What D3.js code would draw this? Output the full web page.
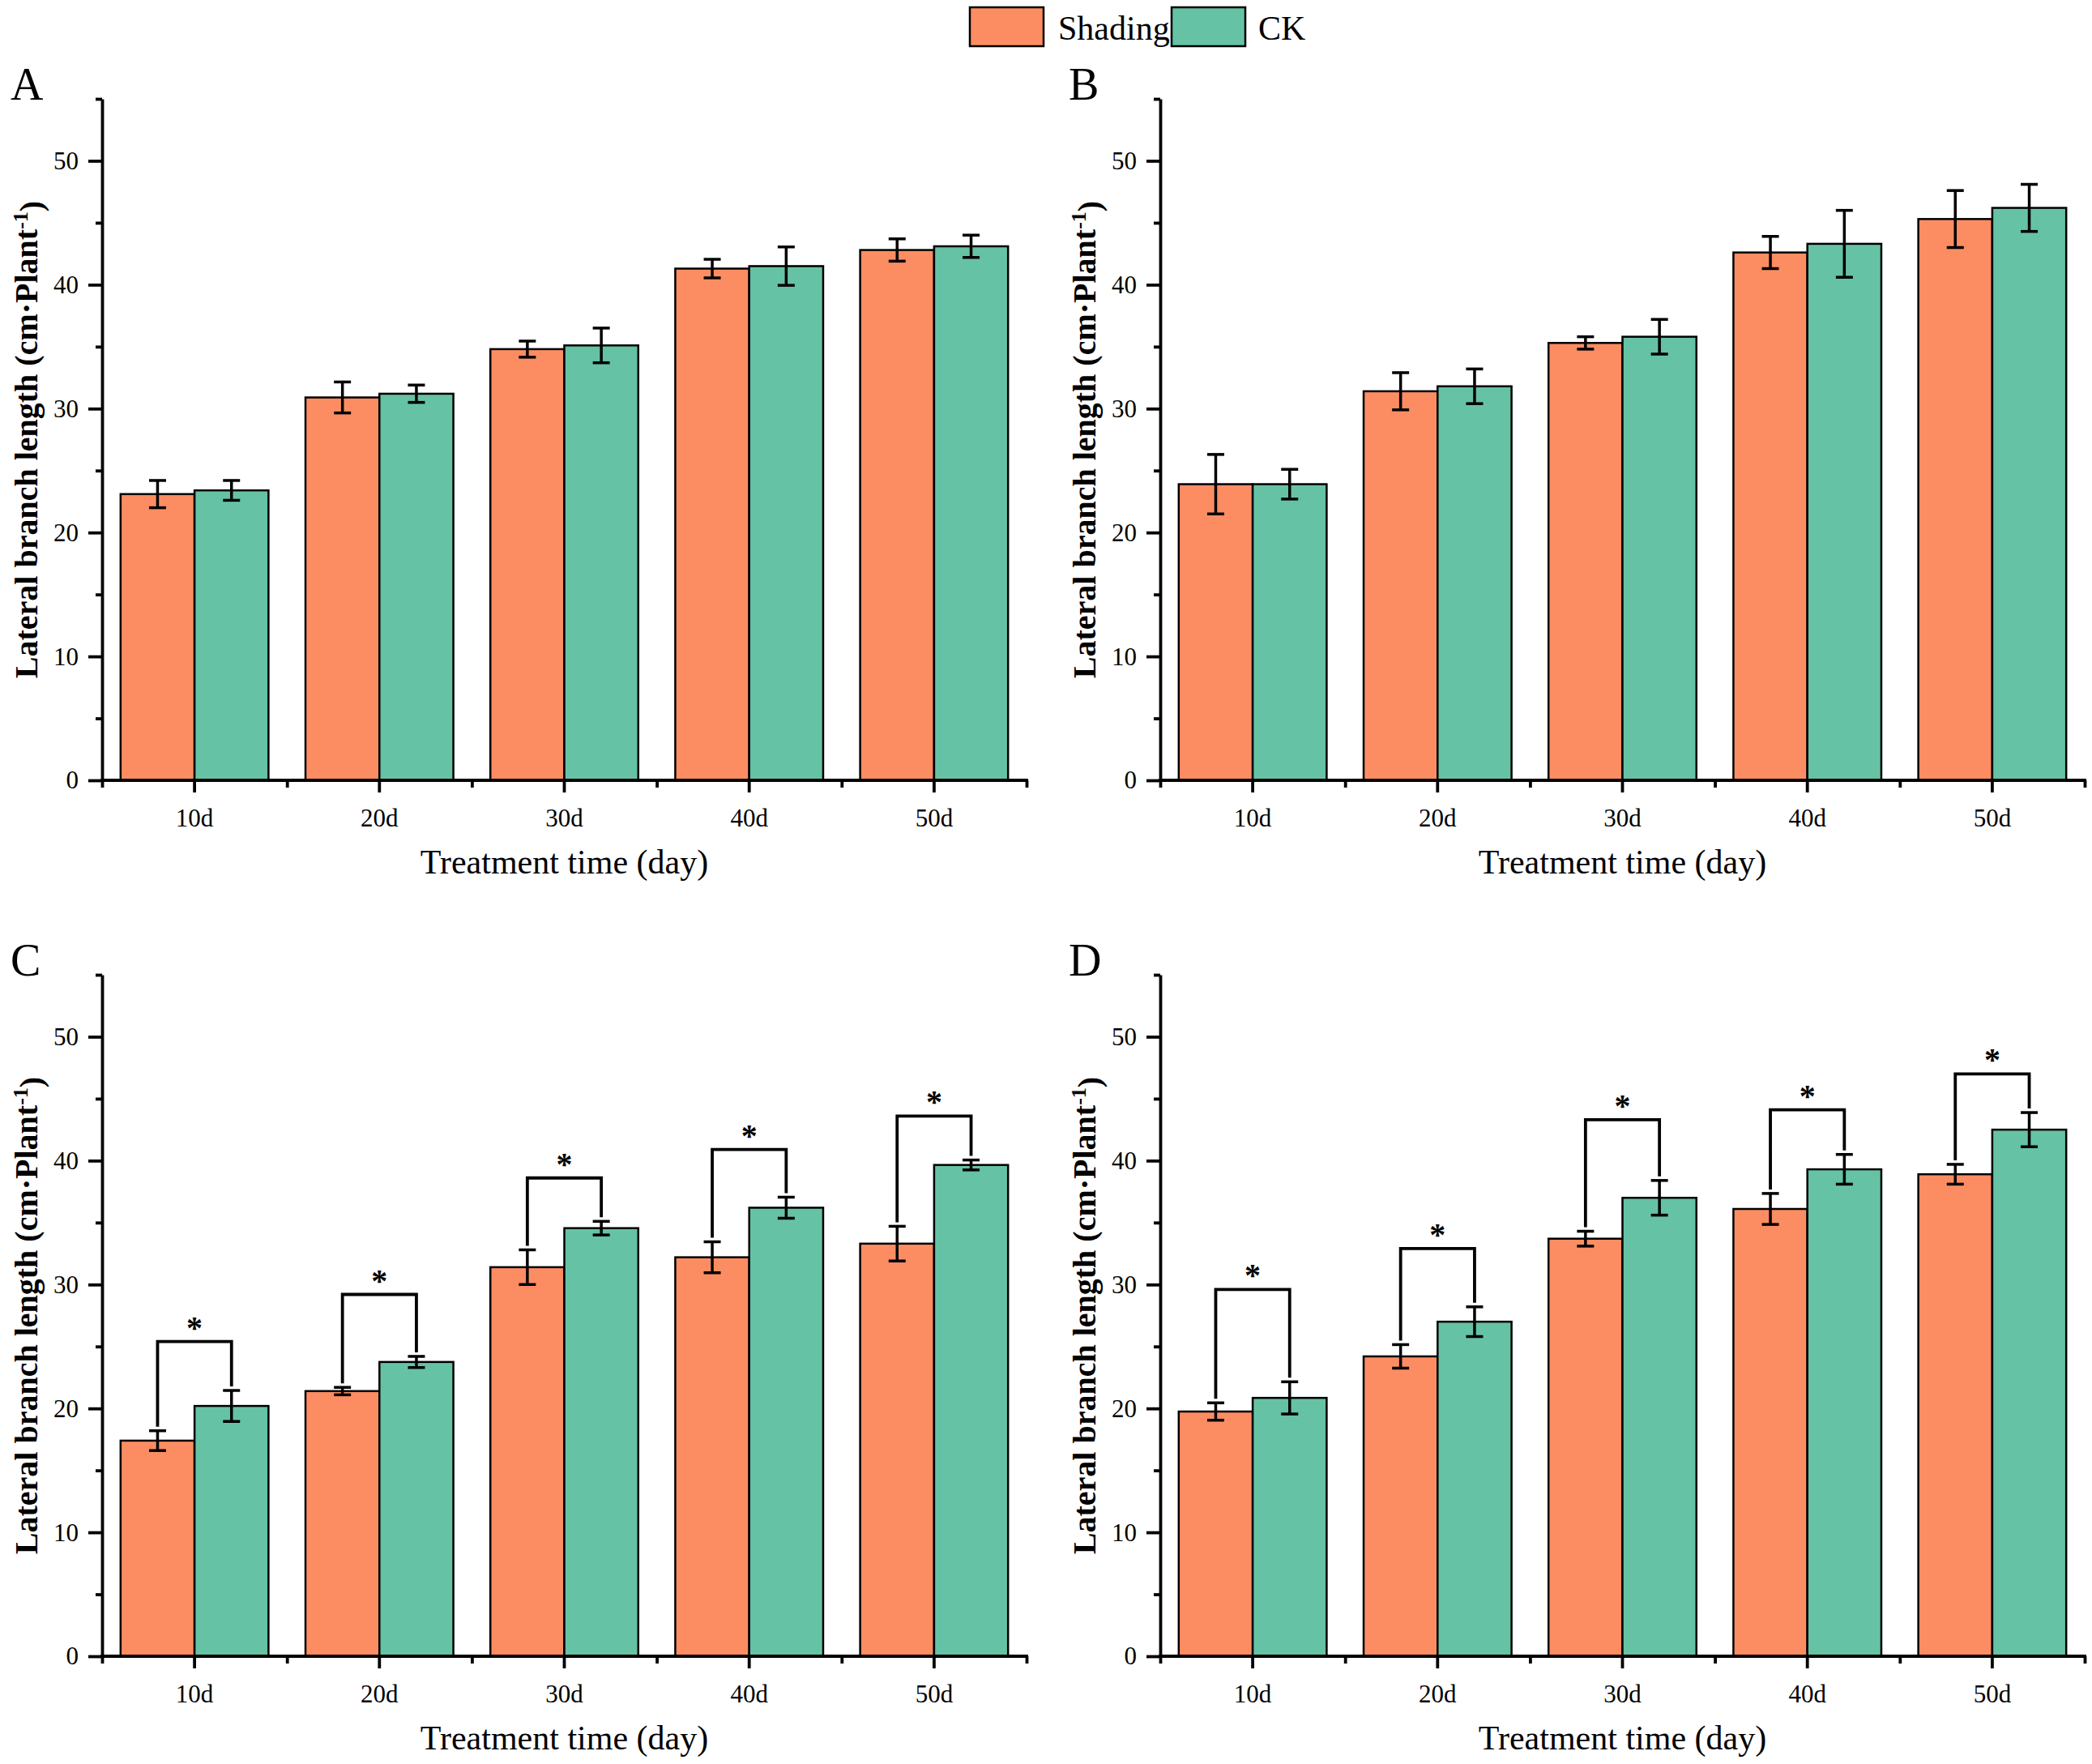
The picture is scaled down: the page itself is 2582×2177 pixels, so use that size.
<!DOCTYPE html>
<html>
<head>
<meta charset="utf-8">
<script src="https://cdn.jsdelivr.net/npm/d3@7/dist/d3.min.js"></script>
<style>
  html, body { margin: 0; padding: 0; background: #fff; }
  svg { display: block; }
  text { font-family: "Liberation Serif", "Times New Roman", serif; fill: #000; }
</style>
</head>
<body>
<svg id="chart" width="2582" height="2177"></svg>
<script>
// ---------- DATA ----------
const categories = ["10d", "20d", "30d", "40d", "50d"];
const seriesNames = ["Shading", "CK"];
const seriesColors = ["#FC8D62", "#66C2A5"];
const yTicks = [0, 10, 20, 30, 40, 50];
const yMinorTicks = [5, 15, 25, 35, 45, 55];
const yMax = 55;

const panelLabels = ["A", "B", "C", "D"];

// Panel A
const shadingA = [23.1, 30.9, 34.8, 41.3, 42.8];
const shadingErrA = [1.1, 1.25, 0.65, 0.75, 0.9];
const ckA = [23.4, 31.2, 35.1, 41.5, 43.1];
const ckErrA = [0.8, 0.7, 1.4, 1.55, 0.9];

// Panel B
const shadingB = [23.9, 31.4, 35.3, 42.6, 45.3];
const shadingErrB = [2.4, 1.5, 0.5, 1.3, 2.3];
const ckB = [23.9, 31.8, 35.8, 43.3, 46.2];
const ckErrB = [1.2, 1.4, 1.4, 2.7, 1.9];

// Panel C
const shadingC = [17.4, 21.4, 31.4, 32.2, 33.3];
const shadingErrC = [0.8, 0.3, 1.4, 1.25, 1.4];
const ckC = [20.2, 23.75, 34.55, 36.2, 39.65];
const ckErrC = [1.25, 0.45, 0.55, 0.85, 0.4];
const bracketC = [25.4, 29.2, 38.6, 40.9, 43.6];

// Panel D
const shadingD = [19.75, 24.2, 33.7, 36.1, 38.9];
const shadingErrD = [0.7, 0.95, 0.6, 1.25, 0.8];
const ckD = [20.85, 27.0, 37.0, 39.3, 42.5];
const ckErrD = [1.3, 1.2, 1.4, 1.2, 1.38];
const bracketD = [29.6, 32.9, 43.3, 44.1, 47.0];

const xTitle = "Treatment time (day)";
const sigMark = "*";

// ---------- LAYOUT ----------
const svg = d3.select("#chart");
const FONT = '"Liberation Serif", "Times New Roman", serif';
const plotW = 1141, plotH = 841;
const panels = [
  { label: panelLabels[0], ox: 126, oy: 122, s: shadingA, se: shadingErrA, c: ckA, ce: ckErrA, br: null },
  { label: panelLabels[1], ox: 1432, oy: 122, s: shadingB, se: shadingErrB, c: ckB, ce: ckErrB, br: null },
  { label: panelLabels[2], ox: 126, oy: 1203, s: shadingC, se: shadingErrC, c: ckC, ce: ckErrC, br: bracketC },
  { label: panelLabels[3], ox: 1432, oy: 1203, s: shadingD, se: shadingErrD, c: ckD, ce: ckErrD, br: bracketD }
];

const x = d3.scaleBand().domain(categories).range([0, plotW]).padding(0);
const xEdge = d3.scaleLinear().domain([0, categories.length]).range([0, plotW]);
const xSub = d3.scaleBand().domain(seriesNames).range([x.bandwidth() * 0.1, x.bandwidth() * 0.9]).padding(0);
const y = d3.scaleLinear().domain([0, yMax]).range([plotH, 0]);

const AXW = 3.8;

panels.forEach(p => {
  const g = svg.append("g").attr("transform", `translate(${p.ox},${p.oy})`);

  // bars
  const rows = categories.map((cat, i) => ({
    cat,
    vals: [
      { name: seriesNames[0], v: p.s[i], e: p.se[i], color: seriesColors[0] },
      { name: seriesNames[1], v: p.c[i], e: p.ce[i], color: seriesColors[1] }
    ]
  }));

  const grp = g.selectAll("g.cat").data(rows).join("g")
    .attr("class", "cat")
    .attr("transform", d => `translate(${x(d.cat)},0)`);

  grp.selectAll("rect").data(d => d.vals).join("rect")
    .attr("x", d => xSub(d.name))
    .attr("width", xSub.bandwidth())
    .attr("y", d => y(d.v))
    .attr("height", d => y(0) - y(d.v))
    .attr("fill", d => d.color)
    .attr("stroke", "#000")
    .attr("stroke-width", 2.5);

  // error bars
  const cap = 10.5;
  const eb = grp.selectAll("g.err").data(d => d.vals).join("g").attr("class", "err");
  eb.append("line")
    .attr("x1", d => xSub(d.name) + xSub.bandwidth() / 2)
    .attr("x2", d => xSub(d.name) + xSub.bandwidth() / 2)
    .attr("y1", d => y(d.v - d.e)).attr("y2", d => y(d.v + d.e))
    .attr("stroke", "#000").attr("stroke-width", 3.5);
  eb.append("line")
    .attr("x1", d => xSub(d.name) + xSub.bandwidth() / 2 - cap)
    .attr("x2", d => xSub(d.name) + xSub.bandwidth() / 2 + cap)
    .attr("y1", d => y(d.v + d.e)).attr("y2", d => y(d.v + d.e))
    .attr("stroke", "#000").attr("stroke-width", 3.5);
  eb.append("line")
    .attr("x1", d => xSub(d.name) + xSub.bandwidth() / 2 - cap)
    .attr("x2", d => xSub(d.name) + xSub.bandwidth() / 2 + cap)
    .attr("y1", d => y(d.v - d.e)).attr("y2", d => y(d.v - d.e))
    .attr("stroke", "#000").attr("stroke-width", 3.5);

  // significance brackets
  if (p.br) {
    rows.forEach((r, i) => {
      const xl = x(r.cat) + xSub(seriesNames[0]) + xSub.bandwidth() / 2;
      const xr = x(r.cat) + xSub(seriesNames[1]) + xSub.bandwidth() / 2;
      const yt = y(p.br[i]);
      const yl = y(p.s[i] + p.se[i]) - 5;
      const yr = y(p.c[i] + p.ce[i]) - 5;
      g.append("path")
        .attr("d", `M${xl},${yl}V${yt}H${xr}V${yr}`)
        .attr("fill", "none").attr("stroke", "#000").attr("stroke-width", 3.8)
        .attr("stroke-linejoin", "miter").attr("stroke-linecap", "butt");
      g.append("text")
        .attr("x", (xl + xr) / 2).attr("y", yt - 4)
        .attr("text-anchor", "middle")
        .style("font-family", FONT).style("font-weight", "bold").style("font-size", "40px")
        .text(sigMark);
    });
  }

  // y axis
  const ya = g.append("g").call(d3.axisLeft(y).tickValues(yTicks).tickSize(17).tickSizeOuter(0).tickPadding(12));
  ya.select(".domain").attr("stroke-width", AXW);
  ya.selectAll(".tick line").attr("stroke-width", AXW);
  ya.selectAll(".tick text").style("font-family", FONT).style("font-size", "31px");
  const yam = g.append("g").call(d3.axisLeft(y).tickValues(yMinorTicks).tickSize(8).tickFormat(""));
  yam.select(".domain").remove();
  yam.selectAll(".tick line").attr("stroke-width", AXW);

  // x axis
  const xa = g.append("g").attr("transform", `translate(0,${plotH})`)
    .call(d3.axisBottom(x).tickSize(15).tickSizeOuter(0).tickPadding(20));
  xa.select(".domain").attr("stroke-width", AXW).attr("d", `M${-1.9},0H${plotW + 1.9}`);
  xa.selectAll(".tick line").attr("stroke-width", AXW);
  xa.selectAll(".tick text").style("font-family", FONT).style("font-size", "31px");
  const xam = g.append("g").attr("transform", `translate(0,${plotH})`)
    .call(d3.axisBottom(xEdge).tickValues(d3.range(0, categories.length + 1)).tickSize(9).tickFormat(""));
  xam.select(".domain").remove();
  xam.selectAll(".tick line").attr("stroke-width", AXW);

  // x title
  g.append("text")
    .attr("x", plotW / 2).attr("y", plotH + 115)
    .attr("text-anchor", "middle")
    .style("font-family", FONT).style("font-size", "42px")
    .text(xTitle);

  // y title
  const yt = g.append("text")
    .attr("transform", `translate(${-80},${plotH / 2}) rotate(-90)`)
    .attr("text-anchor", "middle")
    .style("font-family", FONT).style("font-weight", "bold").style("font-size", "40px");
  yt.append("tspan").text("Lateral branch length (cm·Plant");
  yt.append("tspan").attr("dy", "-0.45em").style("font-size", "26px").text("-1");
  yt.append("tspan").attr("dy", "0.45em").text(")");

  // panel label
  g.append("text")
    .attr("x", -113).attr("y", 1)
    .style("font-family", FONT).style("font-size", "56px")
    .text(p.label);
});

// legend
const legend = svg.append("g");
const legendItems = [
  { name: seriesNames[0], color: seriesColors[0], rx: 1197, tx: 1306 },
  { name: seriesNames[1], color: seriesColors[1], rx: 1446, tx: 1553 }
];
legendItems.forEach(it => {
  legend.append("rect")
    .attr("x", it.rx).attr("y", 9).attr("width", 91).attr("height", 48)
    .attr("fill", it.color).attr("stroke", "#000").attr("stroke-width", 2.5);
  legend.append("text")
    .attr("x", it.tx).attr("y", 49)
    .style("font-family", FONT).style("font-size", "42px")
    .text(it.name);
});
</script>
</body>
</html>
